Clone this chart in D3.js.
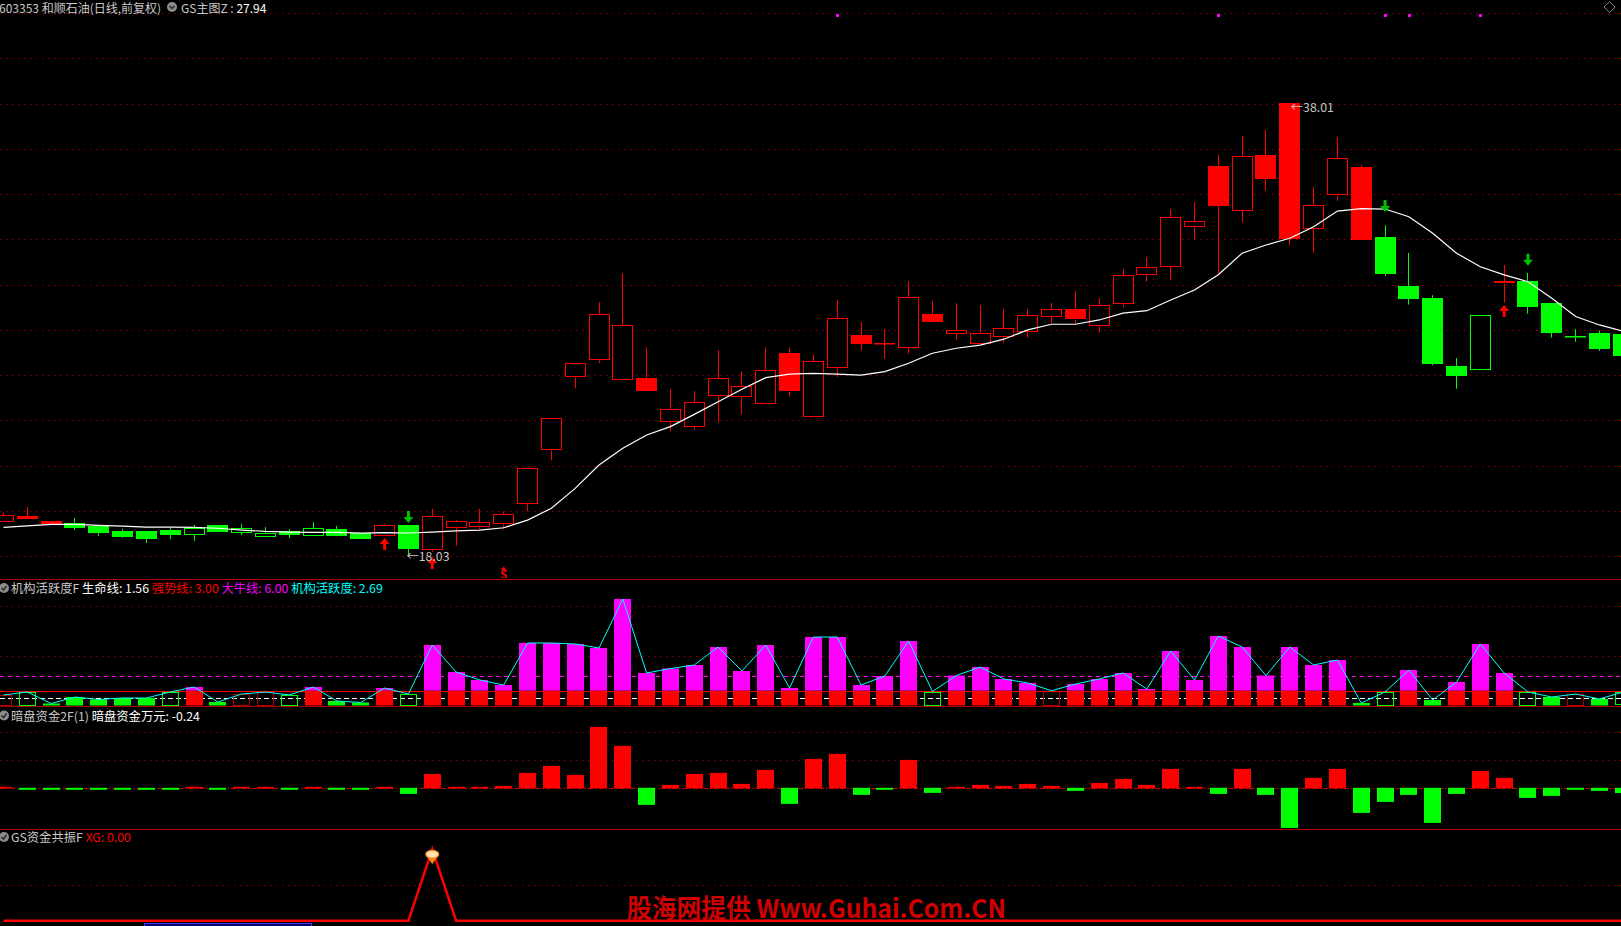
<!DOCTYPE html>
<html><head><meta charset="utf-8">
<script src="https://cdn.jsdelivr.net/npm/d3@7"></script>
<style>
html,body{margin:0;padding:0;background:#000;overflow:hidden}
svg{display:block}
text{font-family:"Noto Sans CJK SC","Noto Sans",sans-serif;font-size:12.3px}
</style></head><body>
<svg id="chart" width="1621" height="926"></svg>
<script>
// ---------------- DATA ----------------
const openP = [19.53,19.78,19.56,19.47,19.34,19.12,19.12,19.16,18.94,19.38, 19.03,18.85,19.12,18.90,19.21,19.03,18.90,19.38,18.27,19.24, 19.28,19.41,20.30,22.68,25.91,26.66,25.78,25.88,23.92,23.70, 25.07,25.02,24.71,26.97,24.14,26.31,27.78,27.42,27.19,28.70, 27.81,27.37,27.67,27.90,28.56,28.91,28.16,29.13,30.41,30.77, 32.53,35.24,33.27,35.73,38.01,32.47,33.93,35.20,32.11,29.94, 29.41,26.41,26.22,30.04,30.16,29.19,27.72,27.86,27.82];
const highP = [19.93,20.18,19.56,19.69,19.34,19.21,19.12,19.25,19.38,19.38, 19.43,19.29,19.21,19.51,19.34,19.03,19.43,19.38,20.09,19.60, 20.09,19.99,21.89,24.10,26.53,29.22,30.50,27.23,25.38,25.29, 27.11,26.17,27.23,27.23,26.92,29.32,28.35,28.04,30.15,29.28, 29.18,29.10,28.92,28.92,29.19,29.72,29.41,30.69,31.22,33.34, 33.65,35.73,36.57,36.83,38.01,34.31,36.52,35.29,32.62,31.40, 29.53,26.76,28.66,30.87,30.52,29.19,28.04,27.98,27.82];
const lowP = [19.53,19.65,19.43,19.16,18.90,18.81,18.59,18.76,18.68,19.07, 18.94,18.85,18.81,18.90,18.90,18.76,18.90,18.03,18.20,18.47, 19.19,19.19,19.99,22.24,25.42,26.53,25.78,25.32,23.52,23.57, 23.92,24.27,24.71,25.05,24.14,25.93,27.08,26.73,26.95,28.36, 27.57,27.37,27.41,27.66,28.29,28.29,27.88,29.00,30.13,30.22, 32.00,30.49,32.74,34.15,31.72,31.41,33.70,31.99,30.38,29.12, 26.44,25.40,26.22,29.20,28.72,27.66,27.48,27.07,26.86];
const closeP = [19.82,19.65,19.43,19.25,19.03,18.85,18.76,18.94,19.25,19.07, 19.25,19.03,18.94,19.25,18.90,18.76,19.38,18.32,19.77,19.55, 19.50,19.86,21.89,24.10,26.53,28.69,28.20,25.32,24.49,24.80, 25.86,25.51,26.22,25.27,26.61,28.51,27.39,27.38,29.44,28.36, 28.00,27.85,28.07,28.65,28.91,28.45,29.09,30.41,30.77,32.98, 32.80,33.49,35.69,34.68,32.02,33.51,35.58,31.99,30.49,29.38, 26.51,25.98,28.66,30.15,29.03,27.88,27.66,27.17,26.86];
// candle colour per day (r = red, g = green)
const candleColor = "rrr" + "ggggggggggggg" + "r" + "g" + "rrrrrrrrrr" + "rrrrrrrrrr" + "rrrrrrrrrr" + "rrrrrrrrrr" + "ggggg" + "r" + "ggggg";
// GS主图Z moving average
const maLine = [19.28,19.34,19.41,19.41,19.37,19.33,19.29,19.29,19.28,19.24, 19.16,19.10,19.07,19.06,19.06,19.02,19.05,19.03,19.07,19.12, 19.16,19.26,19.60,20.12,21.00,22.03,22.77,23.36,23.73,24.27, 24.83,25.38,25.89,26.05,26.08,26.05,26.00,26.16,26.53,26.97, 27.19,27.33,27.59,28.00,28.25,28.25,28.44,28.74,28.85,29.32, 29.76,30.44,31.39,31.75,32.05,32.56,33.25,33.36,33.34,33.00, 32.27,31.39,30.79,30.43,30.13,29.40,28.59,28.22,27.94];
const priceGrid = [18,20,22,24,26,28,30,32,34,36,38,40,42];
const downArrowIdx = [17,58,64];
const downArrowPrice = [19.47,33.21,30.83];
const upArrowIdx = [16,18,63];
const upArrowPrice = [18.81,17.97,29.10];
const topSignalIdx = [35,51,58,59,62];
const sellSignalIdx = [21];

// 机构活跃度F
const activity = [2.1,2.7,0.4,1.7,1.2,1.5,1.5,2.7,3.7,0.7, 2.3,2.7,2.1,3.7,0.9,0.6,3.5,2.3,12.1,6.7, 5.1,4.1,12.5,12.5,12.3,11.5,21.3,6.5,7.4,8.1, 11.7,6.9,12.1,3.5,13.7,13.7,4.1,5.9,12.9,2.8, 6.0,7.7,5.3,4.5,2.95,4.3,5.3,6.5,3.3,10.9, 5.1,13.9,11.7,6.0,11.7,8.1,9.1,0.5,2.7,7.1, 1.1,4.7,12.3,6.5,2.7,1.7,2.3,1.3,2.69];
const activityStyle = ["rh","gh","gf","gf","gf","gf","gf","gh","m","gf", "rh","rh","gh","m","gf","gf","m","gh","m","m", "m","m","m","m","m","m","m","m","m","m", "m","m","m","m","m","m","m","m","m","gh", "m","m","m","m","rh","m","m","m","m","m", "m","m","m","m","m","m","m","gf","gh","m", "gf","m","m","m","gh","gf","rh","gf","gh"];
const lifeLine = 1.56, strongLine = 3.00, bullLine = 6.00;
const activityGrid = [10,20];

// 暗盘资金2F(1)
const darkFunds = [0.07,-0.03,-0.03,-0.03,-0.03,-0.03,-0.03,-0.03,0.07,-0.03, 0.07,0.03,-0.03,0.07,-0.03,-0.03,0.07,-0.28,0.72,0.07, 0.07,0.12,0.77,1.12,0.67,3.07,2.12,-0.83,0.17,0.72, 0.77,0.22,0.92,-0.78,1.47,1.72,-0.33,-0.03,1.42,-0.23, 0.07,0.17,0.12,0.22,0.12,-0.13,0.27,0.47,0.17,0.97, 0.07,-0.28,0.97,-0.33,-1.98,0.52,0.97,-1.23,-0.68,-0.33, -1.73,-0.28,0.87,0.52,-0.48,-0.38,-0.03,-0.13,-0.24];
const fundsGrid = [1.4,2.8];

// GS资金共振F XG
const xgSignal = [0,0,0,0,0,0,0,0,0,0, 0,0,0,0,0,0,0,0,1,0, 0,0,0,0,0,0,0,0,0,0, 0,0,0,0,0,0,0,0,0,0, 0,0,0,0,0,0,0,0,0,0, 0,0,0,0,0,0,0,0,0,0, 0,0,0,0,0,0,0,0,0];
const xgGrid = [0.5];

// ---------------- CHART ----------------
const W = 1621, H = 926;
const RED = "#ff0000", GREEN = "#00ff00", MAG = "#ff00ff", CYAN = "#00ffff";
const GRIDC = "#8a0000", SEPC = "#b00000";
const svg = d3.select("#chart");
svg.append("rect").attr("width", W).attr("height", H).attr("fill", "#000");

const idx = d3.range(openP.length);
const x = d3.scaleBand().domain(idx).range([-8.41, 1635.17]).paddingInner(0.12).paddingOuter(0.06);
const xb = d3.scaleBand().domain(idx).range([-8.41, 1635.17]).paddingInner(0.286).paddingOuter(0.143);
const xc = i => x(i) + x.bandwidth() / 2;
const crisp = v => Math.round(v) + 0.5;

const yMain = d3.scaleLinear().domain([18, 42]).range([556.3, 13.0]);
const y1 = d3.scaleLinear().domain([0, 20]).range([705.5, 605.5]);
const y2 = d3.scaleLinear().domain([0, 2.8]).range([788.3, 732.3]);
const y3 = d3.scaleLinear().domain([0, 1]).range([920.7, 849.3]);

function hline(g, y, color, dash, width) {
  g.append("line").attr("x1", 0).attr("x2", W).attr("y1", crisp(y)).attr("y2", crisp(y))
    .attr("stroke", color).attr("stroke-width", width || 1).attr("stroke-dasharray", dash || null);
}

const defs = svg.append("defs");
defs.append("clipPath").attr("id", "clipMain").append("rect").attr("x", 0).attr("y", 0).attr("width", W).attr("height", 578);

// ===== main panel =====
const gMain = svg.append("g").attr("clip-path", "url(#clipMain)");
priceGrid.forEach(p => hline(gMain, yMain(p), GRIDC, "1.5,4.5"));

const gC = gMain.append("g");
idx.forEach(i => {
  const col = candleColor[i] === "r" ? RED : GREEN;
  const o = openP[i], c = closeP[i], h = highP[i], l = lowP[i];
  const top = Math.max(o, c), bot = Math.min(o, c);
  const filled = c < o;
  const cx = crisp(xc(i) - 0.5);
  const yt = yMain(top), yb = yMain(bot);
  gC.append("line").attr("x1", cx).attr("x2", cx).attr("y1", yMain(h)).attr("y2", yt).attr("stroke", col);
  gC.append("line").attr("x1", cx).attr("x2", cx).attr("y1", yb).attr("y2", yMain(l)).attr("stroke", col);
  const bx = Math.round(x(i)), bw = Math.round(x.bandwidth());
  const bh = Math.max(1, yb - yt);
  if (filled || bh < 2.5) {
    gC.append("rect").attr("x", bx).attr("y", Math.round(yt)).attr("width", bw).attr("height", Math.max(1.5, Math.round(bh)))
      .attr("fill", col);
  } else {
    gC.append("rect").attr("x", bx + 0.5).attr("y", Math.round(yt) + 0.5).attr("width", bw - 1).attr("height", Math.round(bh) - 1)
      .attr("fill", "#000").attr("stroke", col).attr("stroke-width", 1);
  }
});

// moving average
gMain.append("path").datum(idx)
  .attr("d", d3.line().x(i => xc(i)).y(i => yMain(maLine[i])))
  .attr("fill", "none").attr("stroke", "#ffffff").attr("stroke-width", 1.2);

// arrows
function downArrow(g, cx, tipY, col) {
  g.append("path").attr("d",
    `M${cx-1.5},${tipY-12} L${cx+1.5},${tipY-12} L${cx+1.5},${tipY-6} L${cx+5},${tipY-6} L${cx},${tipY} L${cx-5},${tipY-6} L${cx-1.5},${tipY-6} Z`)
    .attr("fill", col);
}
function upArrow(g, cx, tipY, col) {
  g.append("path").attr("d",
    `M${cx-1.5},${tipY+12} L${cx+1.5},${tipY+12} L${cx+1.5},${tipY+6} L${cx+5},${tipY+6} L${cx},${tipY} L${cx-5},${tipY+6} L${cx-1.5},${tipY+6} Z`)
    .attr("fill", col);
}
downArrowIdx.forEach((i, k) => downArrow(gMain, xc(i), yMain(downArrowPrice[k]), "#00c000"));
upArrowIdx.forEach((i, k) => upArrow(gMain, xc(i), yMain(upArrowPrice[k]), "#ff0000"));

// high / low labels
const hiI = d3.maxIndex(highP), loI = d3.minIndex(lowP);
gMain.append("text").attr("x", xc(hiI) + 1).attr("y", yMain(highP[hiI]) + 9)
  .attr("fill", "#c8c8c8").text("←" + highP[hiI].toFixed(2));
gMain.append("text").attr("x", xc(loI) - 2).attr("y", yMain(lowP[loI]) + 5)
  .attr("fill", "#c8c8c8").text("←" + lowP[loI].toFixed(2));

// sell 'S' marks
sellSignalIdx.forEach(i => {
  const cx = xc(i);
  gMain.append("path").attr("d", `M${cx-3},570 L${cx+3},570 L${cx},566.5 Z`).attr("fill", RED);
  gMain.append("text").attr("x", cx).attr("y", 579).attr("text-anchor", "middle")
    .attr("fill", RED).style("font-size", "11px").style("font-weight", "bold").text("S");
});

// top magenta signals
topSignalIdx.forEach(i => {
  svg.append("rect").attr("x", Math.round(xc(i)) - 1).attr("y", 14).attr("width", 3).attr("height", 3).attr("fill", MAG);
});

// main header
const hdr = svg.append("text").attr("x", -1).attr("y", 13).style("font-size", "12px");
hdr.append("tspan").attr("fill", "#c8c8c8").text("603353 和顺石油(日线,前复权)");
function checkIcon(cx, cy, chevron) {
  svg.append("circle").attr("cx", cx).attr("cy", cy).attr("r", 5).attr("fill", "#8c8c8c");
  svg.append("path").attr("d", chevron ? `M${cx-2.5},${cy-1} L${cx},${cy+1.5} L${cx+2.5},${cy-1}` : `M${cx-2.5},${cy} L${cx-0.5},${cy+2} L${cx+2.5},${cy-2}`)
    .attr("fill", "none").attr("stroke", "#2a2a2a").attr("stroke-width", 1.5);
}
checkIcon(172, 7, true);
const hdr2 = svg.append("text").attr("x", 181).attr("y", 13).style("font-size", "12px");
hdr2.append("tspan").attr("fill", "#c8c8c8").text("GS主图Z : ");
hdr2.append("tspan").attr("fill", "#ffffff").text(maLine[maLine.length - 1].toFixed(2));

// diamond top-right
svg.append("path").attr("d", "M1609.5,1.5 L1615,7 L1609.5,12.5 L1604,7 Z").attr("fill", "none").attr("stroke", "#808080");

// ===== separators =====
hline(svg, 579, SEPC);
hline(svg, 706, SEPC);
hline(svg, 829, SEPC);

// ===== panel 1 =====
const g1 = svg.append("g");
activityGrid.forEach(v => hline(g1, y1(v), GRIDC, "1.5,4.5"));
hline(g1, y1(bullLine), MAG, "4,4");
hline(g1, y1(lifeLine), "#ffffff", "5,3");
idx.forEach(i => {
  const v = activity[i], st = activityStyle[i];
  const bx = Math.round(xb(i)), bw = Math.round(xb.bandwidth());
  if (v >= strongLine) {
    g1.append("rect").attr("x", bx).attr("y", y1(strongLine)).attr("width", bw).attr("height", y1(0) - y1(strongLine)).attr("fill", RED);
    g1.append("rect").attr("x", bx).attr("y", y1(v)).attr("width", bw).attr("height", y1(strongLine) - y1(v)).attr("fill", MAG);
  } else if (st === "gf") {
    g1.append("rect").attr("x", bx).attr("y", y1(v)).attr("width", bw).attr("height", y1(0) - y1(v)).attr("fill", GREEN);
  } else {
    const col = st === "gh" ? GREEN : "#b00000";
    g1.append("rect").attr("x", bx + 0.5).attr("y", Math.round(y1(v)) + 0.5).attr("width", bw - 1)
      .attr("height", Math.round(y1(0) - y1(v)) - 1).attr("fill", "none").attr("stroke", col);
  }
});
hline(g1, y1(strongLine), RED, null, 1.2);
g1.append("path").datum(idx).attr("d", d3.line().x(i => xc(i)).y(i => y1(activity[i])))
  .attr("fill", "none").attr("stroke", CYAN).attr("stroke-width", 1);

checkIcon(4, 588, false);
const t1 = svg.append("text").attr("x", 11).attr("y", 593);
t1.append("tspan").attr("fill", "#c8c8c8").text("机构活跃度F ");
t1.append("tspan").attr("fill", "#ffffff").text("生命线: " + lifeLine.toFixed(2) + " ");
t1.append("tspan").attr("fill", RED).text("强势线: " + strongLine.toFixed(2) + " ");
t1.append("tspan").attr("fill", MAG).text("大牛线: " + bullLine.toFixed(2) + " ");
t1.append("tspan").attr("fill", CYAN).text("机构活跃度: " + activity[activity.length - 1].toFixed(2));

// ===== panel 2 =====
const g2 = svg.append("g");
fundsGrid.forEach(v => hline(g2, y2(v), GRIDC, "1.5,4.5"));
hline(g2, y2(0), "#d00000", "5,2,1.5,2");
idx.forEach(i => {
  const v = darkFunds[i];
  const bx = Math.round(xb(i)), bw = Math.round(xb.bandwidth());
  const yv = y2(v), y0 = y2(0);
  if (v >= 0) {
    g2.append("rect").attr("x", bx).attr("y", Math.min(yv, y0 - 1.5)).attr("width", bw).attr("height", Math.max(1.5, y0 - yv)).attr("fill", RED);
  } else {
    g2.append("rect").attr("x", bx).attr("y", y0 - 0.5).attr("width", bw).attr("height", Math.max(2, yv - y0 + 0.5)).attr("fill", GREEN);
  }
});
checkIcon(4, 715.5, false);
const t2 = svg.append("text").attr("x", 11).attr("y", 720.5);
t2.append("tspan").attr("fill", "#c8c8c8").text("暗盘资金2F(1) ");
t2.append("tspan").attr("fill", "#ffffff").text("暗盘资金万元: " + darkFunds[darkFunds.length - 1].toFixed(2));

// ===== panel 3 =====
const g3 = svg.append("g");
xgGrid.forEach(v => hline(g3, y3(v), GRIDC, "1.5,4.5"));
g3.append("path").datum(idx).attr("d", d3.line().x(i => xc(i)).y(i => y3(xgSignal[i])))
  .attr("fill", "none").attr("stroke", RED).attr("stroke-width", 2.5).attr("stroke-linejoin", "miter");
idx.filter(i => xgSignal[i] > 0).forEach(i => {
  const cx = xc(i), cy = y3(xgSignal[i]);
  g3.append("path").attr("d", `M${cx-6},${cy+6} L${cx+6},${cy+6} L${cx},${cy+15} Z`).attr("fill", "#f08a20");
  g3.append("ellipse").attr("cx", cx).attr("cy", cy + 5).attr("rx", 6.5).attr("ry", 4).attr("fill", "#ffe2b0").attr("stroke", "#f08a20").attr("stroke-width", 1.2);
});
checkIcon(4, 837, false);
const t3 = svg.append("text").attr("x", 11).attr("y", 842);
t3.append("tspan").attr("fill", "#c8c8c8").text("GS资金共振F ");
t3.append("tspan").attr("fill", RED).text("XG: " + xgSignal[xgSignal.length - 1].toFixed(2));

// bottom tooltip box edge (mostly below the visible area)
svg.append("rect").attr("x", 144.5).attr("y", 923.5).attr("width", 167).attr("height", 10)
  .attr("fill", "#000070").attr("stroke", "#3a3aff");

// watermark
svg.append("text").attr("x", 627).attr("y", 918).attr("fill", "#d00000")
  .attr("textLength", 379).attr("lengthAdjust", "spacingAndGlyphs")
  .style("font-size", "26px").style("font-weight", "bold")
  .style("font-family", "'Liberation Sans Narrow','Noto Sans CJK SC',sans-serif")
  .text("股海网提供 Www.Guhai.Com.CN");
</script>
</body></html>
